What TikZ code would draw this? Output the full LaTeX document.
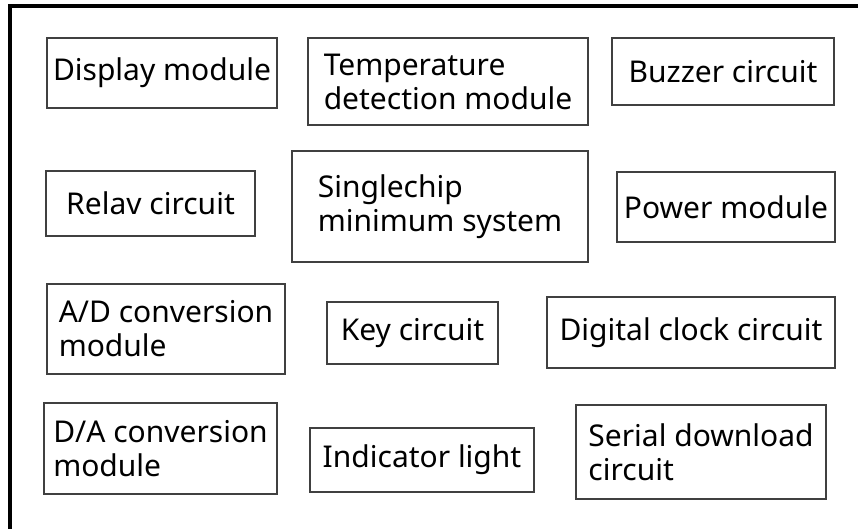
\documentclass[tikz,border=0pt]{standalone}
\usepackage{fontspec}
\setmainfont{Noto Sans}
\begin{document}
\begin{tikzpicture}[x=1pt, y=-1pt]
        \useasboundingbox (0,0) rectangle (858,529);
        \draw[line width=4pt] (9.5,529) -- (9.5,6.5) -- (858,6.5);
        \begin{scope}[every node/.style={draw=black!75,line width=1.5pt,inner sep=0pt,align=left,font=\fontsize{30}{34}\selectfont}]
            \node[minimum width=230, minimum height=70] (disp) at (162, 73) {Display module};
            \node[minimum width=280, minimum height=87] (temp) at (448, 81.5) {Temperature\\detection module};
            \node[minimum width=222, minimum height=67] (buzz) at (723, 71.5) {Buzzer circuit};
            \node[minimum width=209, minimum height=65] (relay) at (150.5, 203.5) {Relav circuit};
            \node[minimum width=296, minimum height=111] (mcu) at (440, 206.5) {Singlechip\\minimum system};
            \node[minimum width=218, minimum height=70] (power) at (726, 207) {Power module};
            \node[minimum width=238, minimum height=90] (adc) at (166, 329) {A/D conversion\\module};
            \node[minimum width=171, minimum height=62] (key) at (412.5, 333) {Key circuit};
            \node[minimum width=288, minimum height=71] (clock) at (691, 332.5) {Digital clock circuit};
            \node[minimum width=233, minimum height=91] (dac) at (160.5, 448.5) {D/A conversion\\module};
            \node[minimum width=224, minimum height=64] (led) at (422, 460) {Indicator light};
            \node[minimum width=250, minimum height=94] (serial) at (701, 452) {Serial download\\circuit};
        \end{scope}
    \end{tikzpicture}
\end{document}
